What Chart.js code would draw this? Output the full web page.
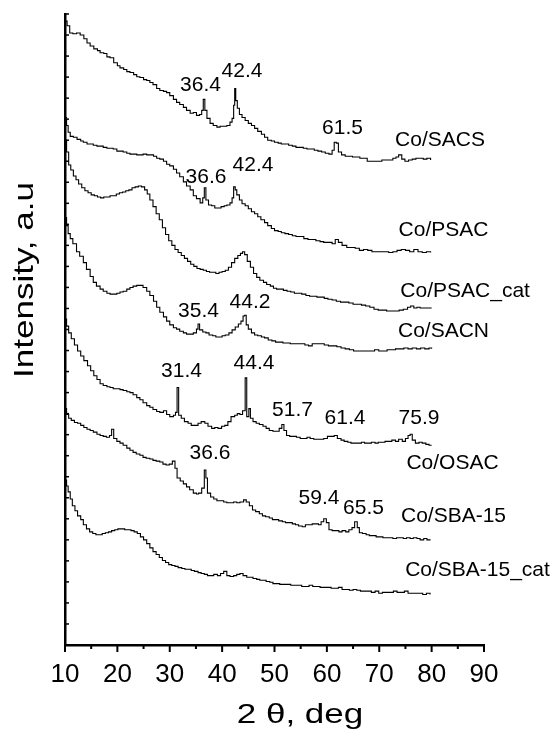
<!DOCTYPE html>
<html>
<head>
<meta charset="utf-8">
<script src="https://cdn.jsdelivr.net/npm/chart.js@4.4.0/dist/chart.umd.min.js"></script>
<style>
  html, body { margin: 0; padding: 0; background: #fff; }
  #wrap { width: 554px; height: 731px; }
</style>
</head>
<body>
<div id="wrap"><canvas id="xrd" width="554" height="731"></canvas></div>
<script>
// XRD patterns, stacked with vertical offsets (intensity in arbitrary units)
const thetaSACS = [10.0,10.4,10.9,11.5,12.2,12.9,13.6,14.2,14.8,15.5,16.2,16.7,17.4,18.0,18.6,19.3,20.0,20.5,21.2,21.8,22.4,23.1,23.7,24.3,25.0,25.6,26.2,26.8,27.5,28.1,28.8,29.4,30.0,30.7,31.3,31.9,32.6,33.2,33.9,34.5,35.1,35.7,36.1,36.4,36.7,37.1,37.7,38.3,39.0,39.6,40.2,40.9,41.5,41.9,42.2,42.4,42.6,42.9,43.3,43.8,44.4,45.0,45.6,46.2,46.8,47.5,48.1,48.7,49.4,50.0,50.7,51.3,52.0,52.7,53.4,54.1,54.8,55.5,56.2,56.9,57.6,58.3,59.0,59.7,60.4,61.0,61.4,61.8,62.2,62.8,63.5,64.2,64.9,65.6,66.3,67.0,67.7,68.4,69.1,69.8,70.5,71.2,71.9,72.6,73.2,73.7,74.3,74.9,75.6,76.3,77.0,77.7,78.4,79.1,79.8];
const intSACS = [148.3,147.2,145.5,145.3,145.5,145.0,144.1,143.1,142.4,141.7,141.3,140.8,140.6,139.8,139.6,138.4,137.7,137.2,136.8,136.3,136.1,135.6,135.1,134.9,134.4,134.2,133.7,133.2,132.3,131.8,131.6,131.3,130.6,129.7,129.0,128.5,127.8,127.1,126.4,126.6,125.9,126.1,127.1,129.7,127.1,125.2,124.0,123.5,123.1,123.3,123.3,123.5,124.3,125.2,128.3,132.3,129.4,127.6,126.1,125.4,124.7,124.0,123.5,122.8,122.1,121.4,120.7,120.0,119.8,119.5,119.3,119.1,119.1,118.8,118.6,118.3,118.3,118.1,117.9,117.9,117.6,117.4,117.2,116.9,116.7,117.6,119.5,119.3,117.2,116.5,116.2,116.2,116.0,116.0,115.7,115.7,115.0,115.0,115.0,115.0,115.3,115.3,115.3,115.7,116.0,116.5,115.5,115.0,115.3,115.5,115.7,115.7,115.5,115.7,115.3];

const thetaPSAC = [10.0,10.3,10.6,11.0,11.6,12.3,13.0,13.5,14.2,14.8,15.4,16.1,16.7,17.3,18.0,18.6,19.2,19.9,20.5,21.1,21.8,22.4,23.0,23.7,24.3,24.9,25.6,26.2,26.9,27.5,28.1,28.8,29.4,30.0,30.7,31.3,31.9,32.6,33.2,33.9,34.5,35.1,35.8,36.3,36.6,36.9,37.4,38.0,38.6,39.2,39.8,40.4,40.9,41.5,41.9,42.2,42.5,42.8,43.3,43.8,44.4,45.0,45.6,46.2,46.8,47.4,48.1,48.7,49.4,50.0,50.7,51.3,52.0,52.7,53.4,54.1,54.9,55.6,56.4,57.1,57.9,58.7,59.4,60.2,61.0,61.6,62.2,62.9,63.8,64.6,65.4,66.2,67.0,67.8,68.6,69.4,70.2,71.0,71.8,72.6,73.4,74.2,75.0,75.8,76.6,77.4,78.2,79.0,79.8];
const intPSAC = [125.4,123.5,121.9,120.9,120.7,120.2,119.8,119.5,119.1,119.1,118.8,118.6,118.6,118.3,118.1,118.1,117.9,117.4,117.4,117.2,116.9,116.7,116.7,116.5,116.5,116.7,116.5,116.5,116.2,115.7,115.5,115.0,114.3,113.9,113.1,112.2,111.3,110.1,109.1,108.2,106.8,106.1,105.1,106.3,108.7,105.8,104.6,104.4,103.9,103.9,104.2,104.4,104.6,105.1,106.3,108.9,108.2,107.0,105.8,104.9,104.4,103.7,103.0,102.5,101.8,101.1,100.4,99.7,99.0,98.5,98.3,98.0,97.8,97.6,97.3,97.1,97.1,96.6,96.4,96.4,96.1,95.9,95.7,95.7,95.4,96.4,95.7,95.0,94.5,94.5,94.3,93.8,94.0,93.8,93.5,93.5,93.5,93.5,93.3,93.5,93.8,94.0,93.8,93.5,94.0,93.5,93.3,93.5,93.3];

const thetaPSACcat = [10.0,10.3,10.7,11.1,11.6,12.1,12.6,13.2,13.8,14.4,15.0,15.6,16.2,16.8,17.4,18.0,18.6,19.2,19.8,20.4,21.0,21.6,22.2,22.8,23.4,24.0,24.6,25.2,25.7,26.2,26.8,27.4,28.0,28.6,29.2,29.8,30.4,31.0,31.6,32.2,32.8,33.4,34.0,34.6,35.2,35.8,36.4,37.0,37.6,38.2,38.8,39.4,40.0,40.6,41.2,41.8,42.4,43.0,43.5,43.9,44.3,44.8,45.4,46.0,46.6,47.2,47.9,48.5,49.2,49.8,50.4,51.0,51.7,52.4,53.1,53.8,54.5,55.2,56.0,56.7,57.4,58.1,58.8,59.5,60.2,61.0,61.8,62.6,63.4,64.2,65.0,65.8,66.6,67.4,68.2,69.0,69.8,70.6,71.4,72.2,73.0,73.8,74.6,75.4,76.0,76.6,77.2,77.8,78.6,79.4,80.0];
const intPSACcat = [120.0,117.2,114.1,112.9,111.5,110.6,109.6,108.7,108.0,107.5,107.0,106.8,106.5,106.3,106.5,106.5,106.8,106.8,107.2,107.5,107.7,108.0,108.2,108.7,108.9,109.1,108.9,108.2,107.2,105.8,104.2,102.5,101.1,99.2,97.6,96.1,95.0,94.0,93.3,92.6,91.9,91.2,90.5,90.0,89.5,89.3,89.1,88.8,88.6,88.6,88.3,88.6,88.8,89.1,89.8,90.9,91.9,92.6,93.1,93.5,92.8,91.2,89.8,88.3,87.4,86.7,86.2,85.7,85.3,84.8,84.6,84.6,84.3,84.1,83.9,83.6,83.6,83.4,83.1,82.9,82.9,82.7,82.7,82.4,82.2,82.0,81.7,81.5,81.5,81.3,81.0,81.0,80.8,80.6,80.3,79.8,79.6,79.6,79.4,79.4,79.4,79.6,79.8,80.3,80.6,80.1,80.3,80.1,80.1,80.1,80.1];

const thetaSACN = [10.0,10.3,10.6,11.0,11.5,12.2,12.8,13.5,14.1,14.8,15.4,16.0,16.7,17.3,18.0,18.6,19.2,19.9,20.5,21.1,21.8,22.4,23.0,23.7,24.3,24.9,25.6,26.2,26.9,27.5,28.1,28.8,29.4,30.0,30.7,31.3,31.9,32.6,33.2,33.9,34.5,35.1,35.4,35.7,36.3,36.9,37.5,38.2,38.8,39.4,40.0,40.6,41.3,41.9,42.5,43.1,43.6,44.0,44.3,44.6,45.0,45.6,46.2,46.8,47.5,48.1,48.8,49.5,50.2,50.9,51.6,52.3,53.0,53.7,54.4,55.1,55.8,56.5,57.2,57.9,58.7,59.5,60.3,61.1,61.9,62.7,63.5,64.3,65.1,65.9,66.7,67.5,68.3,69.1,69.9,70.7,71.5,72.3,73.1,73.9,74.7,75.5,76.3,77.1,77.9,78.7,79.5,80.0];
const intSACN = [101.6,99.7,97.8,96.6,95.4,93.5,92.4,90.9,89.3,87.6,86.2,85.3,84.6,84.1,83.6,83.4,83.4,83.6,83.9,84.1,84.6,85.0,85.3,85.5,85.5,85.0,84.1,83.1,81.7,80.3,79.1,78.0,77.0,76.1,75.4,75.1,74.6,74.2,73.9,73.9,74.2,75.1,76.3,74.9,74.4,74.2,73.7,73.5,73.2,73.2,73.5,73.7,74.2,74.9,75.6,76.3,77.0,78.2,78.4,76.1,75.1,74.2,73.7,73.5,73.2,73.0,72.5,72.3,72.0,72.0,71.8,71.8,71.6,71.6,71.6,71.6,71.3,71.1,71.6,71.6,71.6,71.3,71.1,71.1,70.9,70.6,70.4,70.2,69.9,69.9,69.9,69.9,69.9,70.2,69.9,69.9,70.2,70.2,70.4,70.4,70.6,70.4,70.6,70.4,70.6,70.4,70.6,70.4];

const thetaOSAC = [10.0,10.3,10.7,11.2,11.8,12.4,13.0,13.6,14.3,14.9,15.5,16.1,16.7,17.3,18.0,18.6,19.2,19.9,20.5,21.1,21.8,22.4,23.0,23.7,24.3,24.9,25.6,26.2,26.8,27.5,28.1,28.8,29.4,30.0,30.7,31.1,31.4,31.7,32.2,32.8,33.5,34.1,34.8,35.4,36.0,36.7,37.3,38.0,38.6,39.2,39.9,40.5,41.1,41.7,42.4,42.9,43.4,43.9,44.4,44.7,45.1,45.4,45.9,46.5,47.1,47.8,48.4,49.0,49.7,50.3,50.9,51.4,51.8,52.3,52.9,53.6,54.2,54.9,55.5,56.2,56.8,57.5,58.1,58.8,59.4,60.1,60.7,61.4,62.0,62.7,63.3,64.0,64.6,65.3,65.9,66.6,67.2,67.9,68.5,69.2,69.8,70.5,71.1,71.8,72.4,73.1,73.7,74.4,75.0,75.5,75.9,76.3,76.9,77.6,78.2,78.9,79.5,80.0];
const intOSAC = [77.5,75.8,74.2,72.8,71.3,69.9,68.7,67.6,66.4,65.2,64.0,63.1,62.1,61.7,61.4,61.2,60.9,60.9,60.7,60.5,60.2,60.0,59.5,58.8,58.3,57.6,56.9,56.5,56.0,55.5,55.3,55.7,54.8,54.3,54.6,55.3,61.2,54.6,53.9,53.1,52.7,52.2,52.2,52.7,53.1,52.7,52.0,51.5,51.7,51.5,52.0,52.2,53.1,54.3,54.6,55.0,54.8,55.7,63.5,54.3,56.2,53.9,53.1,52.7,52.4,52.0,51.5,51.0,50.8,50.8,51.5,52.4,51.0,49.8,49.6,49.6,49.4,49.1,49.1,49.4,49.1,48.9,48.9,48.9,49.1,49.6,49.6,49.8,49.1,48.7,48.4,48.2,48.0,48.0,48.0,48.2,48.0,48.0,48.2,48.0,48.2,48.2,48.4,48.4,48.7,48.4,48.9,48.4,49.1,49.8,50.1,48.7,48.0,48.2,48.0,47.7,47.5,47.5];

const thetaSBA = [10.0,10.3,10.7,11.2,11.8,12.4,13.0,13.6,14.2,14.8,15.4,16.1,16.7,17.3,17.9,18.5,18.9,19.3,19.9,20.5,21.1,21.8,22.4,23.0,23.6,24.3,24.9,25.5,26.2,26.8,27.4,28.1,28.7,29.3,29.9,30.5,31.0,31.4,32.0,32.6,33.2,33.8,34.5,35.1,35.5,36.1,36.6,36.9,37.2,37.8,38.4,39.0,39.7,40.3,40.9,41.5,42.2,42.8,43.4,44.1,44.6,45.2,45.8,46.4,47.1,47.7,48.3,49.0,49.6,50.2,50.8,51.5,52.1,52.7,53.4,54.0,54.6,55.3,55.9,56.5,57.2,57.8,58.4,58.9,59.4,59.9,60.4,61.0,61.7,62.3,62.9,63.6,64.2,64.8,65.3,65.8,66.2,66.8,67.5,68.1,68.8,69.4,70.0,70.7,71.3,72.0,72.6,73.3,73.9,74.6,75.2,75.9,76.5,77.2,77.8,78.5,79.1,79.8];
const intSBA = [56.2,54.8,53.9,53.4,52.9,52.7,52.2,51.7,51.3,51.0,50.6,50.1,49.8,49.6,49.4,49.8,51.3,49.1,48.4,48.0,47.5,46.8,46.3,45.8,45.4,45.1,44.6,44.4,44.2,43.9,43.7,43.5,43.0,42.8,43.0,43.7,42.0,39.7,39.0,38.3,37.6,36.9,36.1,35.9,36.1,37.3,41.6,39.7,36.1,35.2,34.7,34.3,34.3,34.0,33.8,33.8,34.0,33.8,34.0,34.5,34.0,33.1,32.1,31.7,31.2,30.7,30.5,30.2,29.8,29.8,29.5,29.3,29.1,29.1,28.8,28.6,28.3,28.1,28.6,28.6,28.8,28.8,28.6,29.3,30.0,29.1,27.4,27.2,27.2,26.9,27.2,26.9,27.4,27.9,29.3,27.9,26.7,26.5,26.2,26.0,26.0,25.7,25.7,25.5,25.5,25.5,25.3,25.5,25.5,25.3,25.5,25.3,25.5,25.3,25.0,25.3,25.0,25.0];

const thetaSBAcat = [10.0,10.3,10.6,11.0,11.4,11.9,12.4,13.0,13.5,14.1,14.7,15.3,15.9,16.5,17.1,17.7,18.3,18.9,19.5,20.1,20.8,21.4,22.0,22.6,23.2,23.8,24.4,25.0,25.6,26.2,26.8,27.4,28.0,28.6,29.2,29.8,30.4,31.0,31.6,32.3,32.9,33.5,34.1,34.7,35.4,36.0,36.6,37.2,37.8,38.4,39.1,39.7,40.3,40.9,41.5,42.2,42.8,43.4,44.0,44.7,45.3,45.9,46.6,47.2,47.8,48.4,49.1,49.7,50.3,51.0,51.7,52.4,53.1,53.8,54.5,55.2,55.9,56.6,57.3,58.0,58.7,59.4,60.1,60.8,61.5,62.2,62.9,63.6,64.3,65.0,65.7,66.4,67.1,67.8,68.5,69.2,69.9,70.6,71.3,72.0,72.7,73.4,74.1,74.8,75.5,76.2,76.9,77.6,78.3,79.0,79.7];
const intSBAcat = [39.2,37.8,36.4,34.7,33.1,31.9,30.7,29.8,28.6,27.6,26.9,26.5,26.2,26.2,26.5,26.7,26.9,27.2,27.4,27.6,27.6,27.4,27.4,27.2,26.9,26.5,25.7,25.0,24.1,23.1,22.2,21.5,20.8,20.1,19.6,19.1,18.9,18.7,18.4,18.2,18.0,18.0,17.7,17.5,17.2,17.0,16.8,16.5,16.5,16.8,16.5,17.0,17.5,16.5,16.3,16.5,16.8,17.0,16.5,16.1,16.1,15.8,15.6,15.4,15.4,15.1,14.9,14.6,14.6,14.4,14.4,14.4,14.2,14.2,14.2,13.9,13.9,14.2,13.9,13.9,13.7,13.7,13.7,13.5,13.5,13.7,13.2,13.2,13.0,13.2,13.0,12.8,12.8,12.8,12.5,12.8,12.3,12.5,12.5,12.5,12.8,12.5,12.5,12.8,12.3,12.3,12.3,12.3,12.0,12.3,12.0];

// axis ticks
const xTickValues = [10, 20, 30, 40, 50, 60, 70, 80, 90];
const yTickStep = 5;

// peak positions and sample names, anchored in (2θ, intensity)
const labelAnchors = [
  { text: '36.4', at: [35.87, 133.0] },
  { text: '42.4', at: [43.80, 136.5] },
  { text: '61.5', at: [62.98, 122.8] },
  { text: 'Co/SACS', at: [81.60, 120.0] },
  { text: '36.6', at: [36.92, 111.3] },
  { text: '42.4', at: [45.90, 114.1] },
  { text: 'Co/PSAC', at: [82.27, 98.7] },
  { text: 'Co/PSAC_cat', at: [86.40, 84.1] },
  { text: '35.4', at: [35.49, 79.4] },
  { text: '44.2', at: [45.32, 81.5] },
  { text: 'Co/SACN', at: [82.27, 74.6] },
  { text: '31.4', at: [32.24, 65.2] },
  { text: '44.4', at: [46.09, 66.9] },
  { text: '51.7', at: [53.44, 55.7] },
  { text: '61.4', at: [63.46, 53.9] },
  { text: '75.9', at: [77.59, 53.9] },
  { text: 'Co/OSAC', at: [83.99, 43.2] },
  { text: '36.6', at: [37.69, 45.6] },
  { text: '59.4', at: [58.50, 35.0] },
  { text: '65.5', at: [67.00, 32.6] },
  { text: 'Co/SBA-15', at: [84.18, 30.7] },
  { text: 'Co/SBA-15_cat', at: [88.76, 17.7] }
];

const FONT = '"Liberation Sans", Arial, Helvetica, sans-serif';

const patterns = [
  { name: 'Co/SACS', theta: thetaSACS, counts: intSACS },
  { name: 'Co/PSAC', theta: thetaPSAC, counts: intPSAC },
  { name: 'Co/PSAC_cat', theta: thetaPSACcat, counts: intPSACcat },
  { name: 'Co/SACN', theta: thetaSACN, counts: intSACN },
  { name: 'Co/OSAC', theta: thetaOSAC, counts: intOSAC },
  { name: 'Co/SBA-15', theta: thetaSBA, counts: intSBA },
  { name: 'Co/SBA-15_cat', theta: thetaSBAcat, counts: intSBAcat }
];

function toPoints(p) {
  const n = Math.min(p.theta.length, p.counts.length);
  const pts = [];
  for (let i = 0; i < n; i++) pts.push({ x: p.theta[i], y: p.counts[i] });
  return pts;
}

// wide-set axis title text
function drawWideText(ctx, text, x, y, angle) {
  ctx.save();
  ctx.translate(x, y);
  if (angle) ctx.rotate(angle);
  ctx.scale(1.25, 1);
  ctx.fillText(text, 0, 0);
  ctx.restore();
}

// axis decorations: inward y ticks, major/minor x ticks, titles and peak labels
const decorations = {
  id: 'decorations',
  afterDraw(chart) {
    const { ctx, chartArea: a, scales: { x, y } } = chart;
    ctx.save();
    ctx.strokeStyle = '#000';
    ctx.fillStyle = '#000';

    ctx.lineWidth = 1.5;
    y.ticks.forEach(t => {
      const py = y.getPixelForValue(t.value);
      ctx.beginPath();
      ctx.moveTo(a.left, py);
      ctx.lineTo(a.left + 4, py);
      ctx.stroke();
    });

    ctx.lineWidth = 2;
    x.ticks.forEach((t, i) => {
      const px = x.getPixelForValue(t.value);
      ctx.beginPath();
      ctx.moveTo(px, a.bottom);
      ctx.lineTo(px, a.bottom + 7);
      ctx.stroke();
      if (i < x.ticks.length - 1) {
        const pm = x.getPixelForValue((t.value + x.ticks[i + 1].value) / 2);
        ctx.beginPath();
        ctx.moveTo(pm, a.bottom);
        ctx.lineTo(pm, a.bottom + 4);
        ctx.stroke();
      }
    });

    ctx.textAlign = 'center';
    ctx.textBaseline = 'middle';
    ctx.font = '21px ' + FONT;
    labelAnchors.forEach(l => {
      ctx.fillText(l.text, x.getPixelForValue(l.at[0]), y.getPixelForValue(l.at[1]));
    });

    ctx.font = '28px ' + FONT;
    ctx.textBaseline = 'alphabetic';
    drawWideText(ctx, '2 \u03b8, deg', 300, 723, 0);
    drawWideText(ctx, 'Intensity, a.u', 33, 280, -Math.PI / 2);

    ctx.restore();
  }
};

new Chart(document.getElementById('xrd'), {
  type: 'line',
  data: {
    datasets: patterns.map(p => ({
      label: p.name,
      data: toPoints(p),
      borderColor: '#000',
      borderWidth: 1.1,
      pointRadius: 0,
      stepped: true,
      fill: false
    }))
  },
  options: {
    responsive: false,
    animation: false,
    events: [],
    layout: { padding: { top: 14, right: 70, left: 0, bottom: 0 } },
    plugins: { legend: { display: false }, tooltip: { enabled: false } },
    scales: {
      x: {
        type: 'linear',
        min: xTickValues[0],
        max: xTickValues[xTickValues.length - 1],
        afterBuildTicks(s) { s.ticks = xTickValues.map(v => ({ value: v })); },
        ticks: { padding: 14, color: '#000', font: { family: FONT, size: 26 } },
        grid: { display: false, drawTicks: false },
        border: { display: true, color: '#000', width: 2.5 },
        afterFit(s) { s.height = 731 - 645; }
      },
      y: {
        min: 0,
        max: 150,
        ticks: { display: false, stepSize: yTickStep },
        grid: { display: false, drawTicks: false },
        border: { display: true, color: '#000', width: 2.5 },
        afterFit(s) { s.width = 65; }
      }
    }
  },
  plugins: [decorations]
});
</script>
</body>
</html>
